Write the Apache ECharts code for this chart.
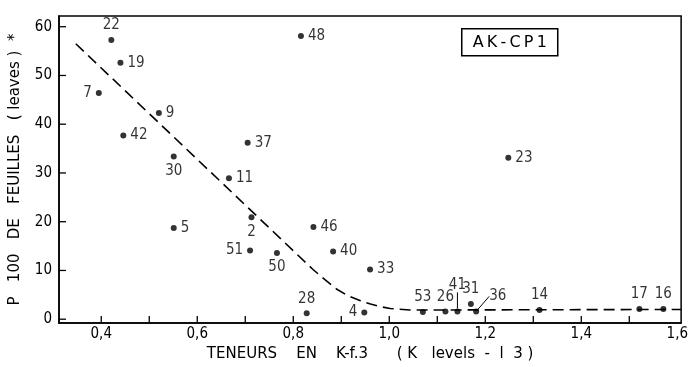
<!DOCTYPE html>
<html>
<head>
<meta charset="utf-8">
<script src="https://cdn.jsdelivr.net/npm/echarts@6/dist/echarts.min.js"></script>
<style>html,body{margin:0;padding:0;background:#fff}#c{width:691px;height:367px}</style>
</head>
<body>
<div id="c"></div>
<script>
// Data
var pointIds = ['22','19','7','9','42','30','48','37','23','5','11','2','46','51','50','40','33','28','4','53','26','41','31','36','14','17','16'];
var kLevels  = [0.421,0.440,0.395,0.520,0.446,0.551,0.816,0.705,1.248,0.551,0.666,0.713,0.842,0.710,0.766,0.883,0.960,0.828,0.948,1.070,1.117,1.142,1.170,1.181,1.313,1.521,1.571];
var pLeaves  = [57.3,52.6,46.4,42.3,37.7,33.4,58.1,36.2,33.1,18.7,28.9,20.9,18.9,14.1,13.6,13.9,10.2,1.2,1.4,1.5,1.6,1.6,3.1,1.6,1.9,2.1,2.1];
var curveK   = [0.347,0.840,0.866,0.890,0.914,0.940,0.961,0.980,1.002,1.043,1.150,1.608];
var curveP   = [56.5,10.3,8.1,6.2,4.8,3.8,3.1,2.6,2.2,1.9,1.9,2.0];
var yTicks   = [0,10,20,30,40,50,60];
var xTicks   = [0.4,0.5,0.6,0.7,0.8,0.9,1.0,1.1,1.2,1.3,1.4,1.5];
var xLabels  = [0.4,0.6,0.8,1.0,1.2,1.4,1.6];
var boxTitle = 'AK-CP1';
var X_MIN = 0.312, X_MAX = 1.608, Y_MIN = -0.8, Y_MAX = 62.2;

// label placement (style)
var labelPlace = {
  '22':{position:'top',offset:[-8,0]}, '19':{position:'right'}, '7':{position:'left'},
  '9':{position:'right'}, '42':{position:'right'}, '30':{position:'bottom'},
  '48':{position:'right'}, '37':{position:'right'}, '23':{position:'right'},
  '5':{position:'right'}, '11':{position:'right'}, '2':{position:'bottom'},
  '46':{position:'right'}, '51':{position:'left'}, '50':{position:'bottom'},
  '40':{position:'right'}, '33':{position:'right'}, '28':{position:'top'},
  '4':{position:'left'}, '53':{position:'top'}, '26':{position:'top'},
  '41':{position:'top'}, '31':{position:'top',offset:[6,0]},
  '36':{position:'right'}, '14':{position:'top'},
  '17':{position:'top'}, '16':{position:'top'}
};
var moved = {'41':{dx:0, dy:-12}, '36':{dx:6, dy:-15}};

var FONT = '"DejaVu Sans Condensed", "DejaVu Sans", sans-serif';
var FONT_W = '"DejaVu Sans", sans-serif';
var pts = pointIds.map(function(id, i){
  var lp = labelPlace[id] || {position:'right'};
  return {
    name:id, value:[kLevels[i], pLeaves[i]],
    label:Object.assign({show:true, formatter:id}, lp),
    labelLine:{show: !!moved[id]}
  };
});
var curve = curveK.map(function(k,i){return [k, curveP[i]];});

function tickSeries(values, isX){
  return {
    type:'custom', silent:true, clip:false, z:4,
    data: values.map(function(v){ return isX ? [v, Y_MIN] : [X_MIN, v]; }),
    renderItem:function(params, api){
      var p = api.coord([api.value(0), api.value(1)]);
      var sh = isX ? {x1:p[0], y1:p[1], x2:p[0], y2:p[1]-7} : {x1:p[0], y1:p[1], x2:p[0]+7, y2:p[1]};
      return {type:'line', shape:sh, style:{stroke:'#000', lineWidth:1.3}};
    },
    tooltip:{show:false}
  };
}

var chart = echarts.init(document.getElementById('c'), null, {renderer:'canvas'});
chart.setOption({
  animation:false,
  backgroundColor:'#fff',
  textStyle:{fontFamily:FONT, color:'#000'},
  grid:{left:57, right:3, top:16, bottom:36, show:true, borderColor:'#000', borderWidth:1.5, backgroundColor:'transparent'},
  xAxis:{
    type:'value', min:X_MIN, max:X_MAX,
    name:'TENEURS    EN    K-f.3      ( K   levels  -  l  3 )',
    nameLocation:'middle', nameGap:20,
    nameTextStyle:{fontFamily:FONT_W, fontSize:15, color:'#000'},
    axisLine:{show:true, onZero:false, lineStyle:{color:'#000', width:1.5}},
    axisTick:{show:false},
    axisLabel:{customValues:xLabels, fontFamily:FONT, fontSize:15, color:'#000', margin:4,
      formatter:function(v){return v.toFixed(1).replace('.', ',');}},
    splitLine:{show:false}
  },
  yAxis:{
    type:'value', min:Y_MIN, max:Y_MAX,
    name:'P   100   DE   FEUILLES   ( leaves )  *',
    nameLocation:'middle', nameGap:36, nameRotate:90,
    nameTextStyle:{fontFamily:FONT_W, fontSize:15, color:'#000'},
    axisLine:{show:true, onZero:false, lineStyle:{color:'#000', width:1.5}},
    axisTick:{show:false},
    axisLabel:{customValues:yTicks, fontFamily:FONT, fontSize:15, color:'#000', margin:7},
    splitLine:{show:false}
  },
  series:[
    {
      type:'line', data:curve, smooth:false, showSymbol:false, symbol:'none',
      lineStyle:{color:'#000', width:1.6, type:[11,6]}, z:2, silent:true
    },
    {
      type:'scatter', data:pts, symbol:'circle', symbolSize:6,
      itemStyle:{color:'#000'},
      label:{show:true, fontFamily:FONT, fontSize:15, color:'#000', distance:4},
      labelLayout:function(p){
        var id = pointIds[p.dataIndex];
        return moved[id] ? {dx:moved[id].dx, dy:moved[id].dy} : {};
      },
      labelLine:{show:false, length2:0, lineStyle:{color:'#000', width:1}},
      z:3
    },
    tickSeries(xTicks, true),
    tickSeries(yTicks, false)
  ],
  graphic:[
    {type:'group', left:461, top:28, children:[
      {type:'rect', shape:{x:0,y:0,width:96,height:27}, style:{fill:'#fff', stroke:'#000', lineWidth:1.5}},
      {type:'text', x:48, y:14, style:{text:boxTitle.split('').join('\u2009'), fontFamily:FONT_W, fontSize:16, fill:'#000', align:'center', verticalAlign:'middle'}}
    ]}
  ]
});
</script>
</body>
</html>
